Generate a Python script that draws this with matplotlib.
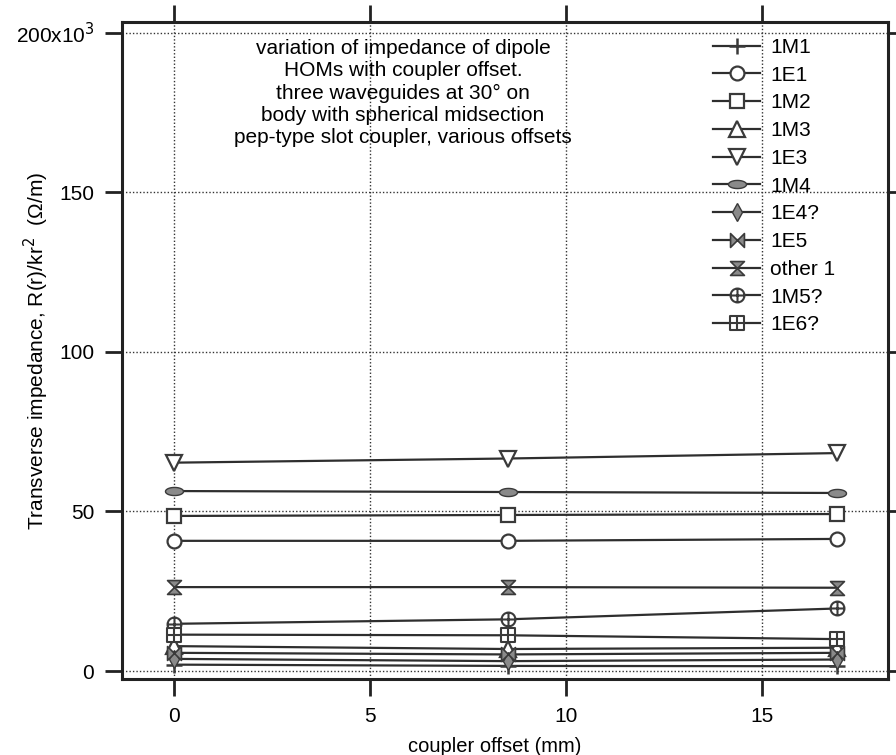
import matplotlib
matplotlib.use("Agg")
import matplotlib.pyplot as plt
from matplotlib.path import Path
import numpy as np

plt.rcParams['font.family'] = ['Liberation Sans', 'DejaVu Sans']

# ---- data ----
offsets = [0.0, 8.5, 16.9]
series_names = ["1M1", "1E1", "1M2", "1M3", "1E3", "1M4", "1E4?", "1E5", "other 1", "1M5?", "1E6?"]
v_1M1 = [2.0, 1.6, 1.5]
v_1E1 = [40.8, 40.8, 41.4]
v_1M2 = [48.6, 48.9, 49.2]
v_1M3 = [7.8, 6.9, 7.3]
v_1E3 = [65.3, 66.6, 68.3]
v_1M4 = [56.4, 56.1, 55.8]
v_1E4 = [3.8, 3.1, 3.6]
v_1E5 = [5.7, 5.2, 5.7]
v_other1 = [26.3, 26.3, 26.1]
v_1M5 = [14.8, 16.2, 19.6]
v_1E6 = [11.4, 11.2, 10.0]
values = [v_1M1, v_1E1, v_1M2, v_1M3, v_1E3, v_1M4, v_1E4, v_1E5, v_other1, v_1M5, v_1E6]

x_ticks = [0, 5, 10, 15]
y_ticks = [0, 50, 100, 150, 200]
y_ticklabels = ["0", "50", "100", "150", "200x10$^3$"]

annotation = ("variation of impedance of dipole\nHOMs with coupler offset.\n"
              "three waveguides at 30\u00b0 on\nbody with spherical midsection\n"
              "pep-type slot coupler, various offsets")

# ---- custom markers ----
M, L, C = Path.MOVETO, Path.LINETO, Path.CLOSEPOLY
bowtie = Path([(-1, -1), (-1, 1), (1, -1), (1, 1), (-1, -1)], [M, L, L, L, C])
hourglass = Path([(-1, 1), (1, 1), (-1, -1), (1, -1), (-1, 1)], [M, L, L, L, C])
t = np.linspace(0, 2 * np.pi, 40)
ellipse = Path(np.column_stack([np.cos(t), 0.45 * np.sin(t)]))
cross_h = Path([(-1, 0), (1, 0)], [M, L])
cross_v = Path([(0, -1), (0, 1)], [M, L])
circ_plus = Path.make_compound_path(Path.unit_circle(), cross_h, cross_v)
sq = Path([(-1, -1), (1, -1), (1, 1), (-1, 1), (-1, -1)], [M, L, L, L, C])
sq_plus = Path.make_compound_path(sq, cross_h, cross_v)

dark = '#2e2e2e'
gray = '#8a8a8a'
styles = [
    dict(marker='+', ms=12, mew=1.8, mfc='none'),
    dict(marker='o', ms=10, mew=1.6, mfc='white'),
    dict(marker='s', ms=10, mew=1.6, mfc='white'),
    dict(marker='^', ms=11, mew=1.6, mfc='white'),
    dict(marker='v', ms=11, mew=1.6, mfc='white'),
    dict(marker=ellipse, ms=13, mew=1.0, mfc=gray),
    dict(marker='d', ms=9, mew=1.0, mfc=gray),
    dict(marker=bowtie, ms=10, mew=1.2, mfc=gray),
    dict(marker=hourglass, ms=10, mew=1.2, mfc=gray),
    dict(marker=circ_plus, ms=10, mew=1.5, mfc='white'),
    dict(marker=sq_plus, ms=10, mew=1.5, mfc='white'),
]

fig = plt.figure(figsize=(8.96, 7.55), dpi=100)
ax = fig.add_axes([122 / 896, 1 - 679 / 755, (888 - 122) / 896, (679 - 22) / 755])

for name, vals, st in zip(series_names, values, styles):
    ax.plot(offsets, vals, color=dark, lw=1.6, mec='#3a3a3a', label=name, **st)

ax.set_xlim(-1.33, 18.2)
ax.set_ylim(-2.5, 203.4)
ax.set_xticks(x_ticks)
ax.set_yticks(y_ticks)
ax.set_yticklabels(y_ticklabels)
ax.grid(True, linestyle=(0, (1, 1.5)), color='#333333', lw=1.0)
ax.set_axisbelow(True)

for s in ax.spines.values():
    s.set_linewidth(2.2)
    s.set_color('#222222')
ax.tick_params(which='both', direction='out', length=12, width=2, color='#222222',
               top=True, right=True, labelsize=15, pad=8)
ax.tick_params(axis='x', pad=8)

ax.set_xlabel("coupler offset (mm)", fontsize=14.5)
ax.xaxis.set_label_coords(0.487, -0.102)
ax.xaxis.label.set_verticalalignment('center')
ax.set_ylabel("Transverse impedance, R(r)/kr$^2$  (\u03a9/m)", fontsize=15)
ax.yaxis.set_label_coords(-0.112, 0.5)
ax.yaxis.label.set_verticalalignment('center')

ax.text(0.367, 0.974, annotation, transform=ax.transAxes, ha='center', va='top',
        fontsize=15, linespacing=1.22)

leg = ax.legend(loc='upper left', bbox_to_anchor=(0.7715, 0.9757), frameon=False,
                fontsize=15, labelspacing=0.42, handlelength=2.26, handletextpad=0.5,
                borderaxespad=0, borderpad=0)

fig.savefig("out.png", dpi=100)
